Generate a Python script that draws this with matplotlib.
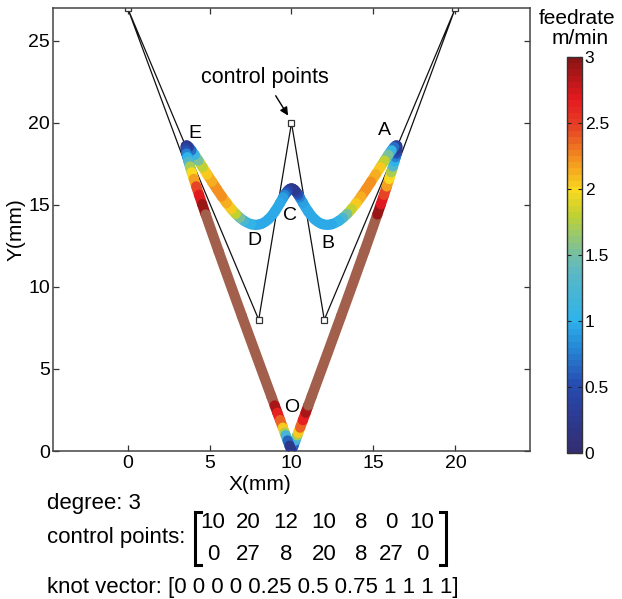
import numpy as np
import matplotlib
matplotlib.use("Agg")
import matplotlib.pyplot as plt
from matplotlib.collections import LineCollection
from matplotlib.colors import LinearSegmentedColormap, Normalize
from matplotlib.lines import Line2D

plt.rcParams["font.family"] = ["Liberation Sans", "DejaVu Sans"]

# spline definition (as printed under the chart)
degree = 3
ctrl_x = [10, 20, 12, 10, 8, 0, 10]
ctrl_y = [0, 27, 8, 20, 8, 27, 0]
knots = [0, 0, 0, 0, 0.25, 0.5, 0.75, 1, 1, 1, 1]

# feedrate (m/min) read along the curve parameter u; values above 3 are saturated
feed_u = [0, 0.001, 0.002, 0.003, 0.0035, 0.0045, 0.006, 0.0075, 0.009, 0.011,
          0.03, 0.05, 0.065, 0.07, 0.075, 0.08, 0.085, 0.09, 0.095, 0.1,
          0.105, 0.11, 0.115, 0.12, 0.13, 0.14, 0.15, 0.16, 0.17, 0.18,
          0.19, 0.2, 0.21, 0.22, 0.23, 0.24, 0.25, 0.26, 0.27, 0.28,
          0.3, 0.33, 0.36, 0.39, 0.42, 0.44, 0.45, 0.46, 0.47, 0.48, 0.49, 0.5,
          0.51, 0.52, 0.53, 0.54, 0.55, 0.56, 0.58, 0.61, 0.64, 0.67,
          0.70, 0.72, 0.73, 0.74, 0.75, 0.76, 0.77, 0.78, 0.79, 0.80,
          0.81, 0.82, 0.83, 0.84, 0.85, 0.86, 0.87, 0.88, 0.885, 0.89,
          0.895, 0.90, 0.905, 0.91, 0.915, 0.92, 0.925, 0.93, 0.935, 0.95,
          0.97, 0.989, 0.991, 0.9925, 0.994, 0.9955, 0.9965, 0.997, 0.998, 0.999, 1.0]
feed_rate = [0.0, 0.4, 0.9, 1.5, 1.9, 2.2, 2.5, 2.75, 3.0, 3.1,
             3.1, 3.1, 3.1, 2.8, 2.6, 2.3, 2.1, 1.9, 1.5, 1.1,
             0.9, 0.6, 0.45, 0.3, 0.2, 0.2, 0.5, 0.9, 1.3, 1.7,
             1.95, 2.1, 2.2, 2.25, 2.2, 2.1, 1.95, 1.7, 1.35, 1.1,
             1.0, 0.95, 0.95, 0.95, 0.95, 0.85, 0.7, 0.5, 0.35, 0.25, 0.2, 0.2,
             0.2, 0.25, 0.35, 0.5, 0.7, 0.85, 0.95, 0.95, 0.95, 0.95,
             1.0, 1.1, 1.35, 1.7, 1.95, 2.1, 2.2, 2.25, 2.2, 2.1,
             1.95, 1.7, 1.3, 0.9, 0.5, 0.2, 0.2, 0.3, 0.45, 0.6,
             0.9, 1.1, 1.5, 1.9, 2.1, 2.3, 2.6, 2.8, 3.1, 3.1,
             3.1, 3.1, 3.0, 2.75, 2.5, 2.2, 1.9, 1.5, 0.9, 0.4, 0.0]

point_names = ["O", "A", "B", "C", "D", "E"]
name_x = [10.0, 15.67, 12.2, 9.88, 7.74, 4.09]
name_y = [2.63, 19.56, 12.65, 14.36, 12.84, 19.37]

cbar_ticks = [0, 0.5, 1, 1.5, 2, 2.5, 3]


def bspline(u):
    P = np.column_stack([ctrl_x, ctrl_y]).astype(float)
    t = np.array(knots, float)
    out = []
    for uu in np.atleast_1d(u):
        k = np.searchsorted(t, uu, side="right") - 1
        k = min(k, len(t) - degree - 2)
        d = [P[j + k - degree].copy() for j in range(degree + 1)]
        for r in range(1, degree + 1):
            for j in range(degree, r - 1, -1):
                i = j + k - degree
                a = (uu - t[i]) / (t[i + 1 + degree - r] - t[i])
                d[j] = (1 - a) * d[j - 1] + a * d[j]
        out.append(d[degree])
    return np.array(out)


# jet-like map as printed in the picture
cmap = LinearSegmentedColormap.from_list("feed", [
    (0.0, (0.20, 0.18, 0.45)),
    (0.10, (0.17, 0.24, 0.60)),
    (0.17, (0.15, 0.30, 0.70)),
    (0.27, (0.15, 0.55, 0.85)),
    (0.333, (0.18, 0.70, 0.92)),
    (0.45, (0.35, 0.72, 0.78)),
    (0.5, (0.45, 0.75, 0.65)),
    (0.6, (0.75, 0.82, 0.20)),
    (0.667, (0.98, 0.85, 0.12)),
    (0.75, (0.95, 0.55, 0.12)),
    (0.83, (0.90, 0.25, 0.15)),
    (0.9, (0.90, 0.10, 0.12)),
    (1.0, (0.55, 0.08, 0.08)),
], N=64)
cmap.set_over("#A25F4B")
norm = Normalize(0, 3)

W, H = 622, 599
fig = plt.figure(figsize=(W / 100, H / 100), dpi=100)
ax = fig.add_axes([53 / W, 1 - 451 / H, 477 / W, 443 / H])

segs, vals = [], []
for i in range(len(feed_u) - 1):
    segs.append(bspline(np.linspace(feed_u[i], feed_u[i + 1], 12)))
    vals.append(0.5 * (feed_rate[i] + feed_rate[i + 1]))
lc = LineCollection(segs, cmap=cmap, norm=norm, linewidths=7.4,
                    capstyle="round", zorder=3)
lc.set_array(np.array(vals))
ax.add_collection(lc)

ax.plot(ctrl_x, ctrl_y, "-s", color="#111111", lw=0.9, ms=4,
        mfc="white", mec="#333333", mew=0.9, zorder=2)

for n, x, y in zip(point_names, name_x, name_y):
    ax.text(x, y, n, fontsize=14, ha="center", va="center", zorder=4)

ax.annotate("control points", xy=(9.88, 20.3), xytext=(8.35, 22.75),
            fontsize=15.5, ha="center", va="center",
            arrowprops=dict(arrowstyle="-|>", color="k", lw=1.0,
                            shrinkA=4, shrinkB=2, mutation_scale=12))

ax.set_xlim(-4.55, 24.55)
ax.set_ylim(0, 27)
ax.set_xticks([0, 5, 10, 15, 20])
ax.set_yticks([0, 5, 10, 15, 20, 25])
ax.tick_params(direction="in", top=True, right=True, length=4,
               labelsize=14, width=0.9, color="#333333")
ax.tick_params(axis="y", pad=2)
ax.tick_params(axis="x", pad=3)
for s in ax.spines.values():
    s.set_color("#444444")
    s.set_linewidth(1.1)
ax.set_ylabel("Y(mm)", fontsize=15, labelpad=2)
fig.text(260 / W, 1 - 484 / H, "X(mm)", fontsize=15, ha="center", va="center")

# colorbar
cax = fig.add_axes([567 / W, 1 - 453 / H, 15 / W, 396 / H])
cb = fig.colorbar(plt.cm.ScalarMappable(norm=norm, cmap=cmap), cax=cax)
cb.set_ticks(cbar_ticks)
cb.set_ticklabels([f"{t:g}" for t in cbar_ticks])
cb.ax.tick_params(direction="in", length=3, labelsize=12.5, pad=2,
                  left=True, right=True, color="#222222")
cb.outline.set_edgecolor("#333333")
cb.outline.set_linewidth(1.0)
fig.text(577 / W, 1 - 18 / H, "feedrate", fontsize=15, ha="center", va="center")
fig.text(580 / W, 1 - 39 / H, "m/min", fontsize=15, ha="center", va="center")

# text block under the chart
fig.text(47 / W, 1 - 504 / H, f"degree: {degree}", fontsize=16, va="center")
fig.text(47 / W, 1 - 537 / H, "control points:", fontsize=16, va="center")
col_x = [213, 248, 286, 324, 361, 391, 422]
for cx, vx, vy in zip(col_x, ctrl_x, ctrl_y):
    fig.text(cx / W, 1 - 522 / H, str(vx), fontsize=16, ha="center", va="center")
    fig.text(cx / W, 1 - 554 / H, str(vy), fontsize=16, ha="center", va="center")
for bx, d in [(195, 1), (446, -1)]:
    xs = [bx + 6 * d, bx, bx, bx + 6 * d]
    ys = [512, 512, 565, 565]
    fig.add_artist(Line2D([x / W for x in xs], [1 - y / H for y in ys],
                          transform=fig.transFigure, color="k", lw=2.2,
                          solid_joinstyle="miter"))
knot_txt = " ".join(f"{k:g}" for k in knots)
fig.text(47 / W, 1 - 588 / H, f"knot vector: [{knot_txt}]", fontsize=16, va="center")

fig.savefig("out.png", dpi=100)
